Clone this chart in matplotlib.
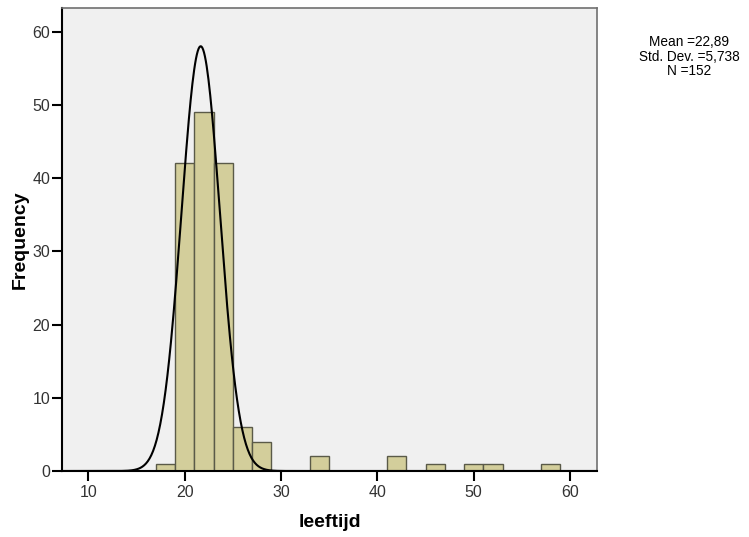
import numpy as np
import matplotlib.pyplot as plt

# histogram of leeftijd, bins of width 2
bin_left = [17, 19, 21, 23, 25, 27, 33, 41, 45, 49, 51, 57]
counts = [1, 42, 49, 42, 6, 4, 2, 2, 1, 1, 1, 1]
bin_width = 2

# normal curve as drawn
curve_mean = 21.65
curve_sd = 2.0
curve_peak = 58

stats_text = "Mean =22,89\nStd. Dev. =5,738\nN =152"

plt.rcParams['font.family'] = ['Liberation Sans', 'DejaVu Sans']

fig = plt.figure(figsize=(7.49, 5.37), dpi=100)
ax = fig.add_axes([0.0828, 0.1229, 0.7142, 0.862])
ax.set_facecolor('#f0f0f0')

ax.bar(bin_left, counts, width=bin_width, align='edge',
       color='#d3ce9b', edgecolor='#5a5a48', linewidth=1.0, zorder=2)

x = np.linspace(7.25, 62.8, 600)
y = curve_peak * np.exp(-0.5 * ((x - curve_mean) / curve_sd) ** 2)
ax.plot(x, y, color='black', linewidth=1.5, zorder=3)

ax.set_xlim(7.25, 62.8)
ax.set_ylim(0, 63.2)
ax.set_xticks([10, 20, 30, 40, 50, 60])
ax.set_yticks([0, 10, 20, 30, 40, 50, 60])
ax.tick_params(axis='both', direction='out', length=7, width=1.5,
               labelsize=11.5, colors='black', labelcolor='#333333', pad=1.5)
ax.tick_params(axis='x', pad=3)

for side in ['left', 'bottom']:
    ax.spines[side].set_color('black')
    ax.spines[side].set_linewidth(1.5)
for side in ['top', 'right']:
    ax.spines[side].set_color('#707070')
    ax.spines[side].set_linewidth(1.2)
ax.spines['bottom'].set_zorder(4)

ax.set_xlabel('leeftijd', fontsize=14, fontweight='bold', labelpad=10)
ax.set_ylabel('Frequency', fontsize=14, fontweight='bold')
ax.yaxis.set_label_coords(-0.063, 0.5)

fig.text(0.92, 0.894, stats_text, ha='center', va='center',
         fontsize=9.8, linespacing=1.05)

fig.savefig('out.png', dpi=100)
